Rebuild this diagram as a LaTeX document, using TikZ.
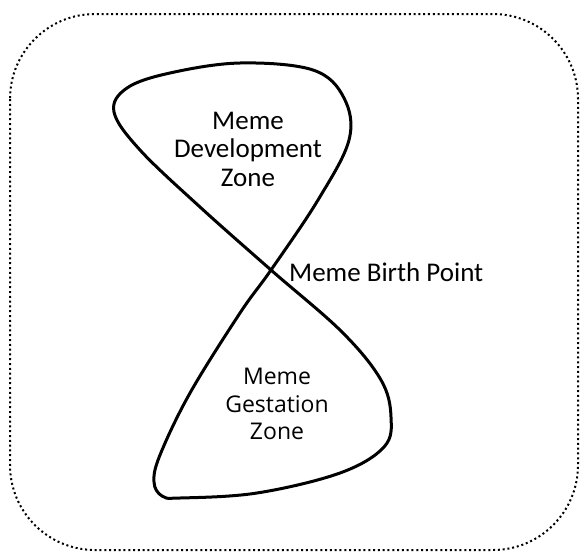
\documentclass[tikz,border=0pt]{standalone}
\usepackage{fontspec}
\setmainfont{Carlito}
\newfontfamily\gestfont{Open Sans}
\begin{document}
\begin{tikzpicture}[x=1pt,y=-1pt,
  frame/.style={line width=2pt,dash pattern=on 2pt off 2.8pt,rounded corners=85pt},
  loop8/.style={line width=3pt,line join=round},
  zonetext/.style={align=center,inner sep=0pt,font=\fontsize{27}{28.5}\selectfont},
  gesttext/.style={align=center,inner sep=0pt,font=\gestfont\fontsize{23}{27.5}\selectfont}]
\useasboundingbox (0,0) rectangle (580,552);
\draw[frame] (10,14) rectangle (578,550);
\draw[loop8] plot[smooth cycle,tension=0.6] coordinates {
  (271,270) (240,313) (190,393) (160,455) (154,482) (162,496) (180,498) (257,493)
  (340,473) (384,447) (391,417) (381,380) (342,332) (271,270)
  (200,207) (140,150) (114,112) (127,88) (170,73) (240,63) (313,70)
  (344,98) (349,140) (318,200)};
\node[zonetext] (dev) at (248,149) {Meme\\Development\\Zone};
\node[zonetext,anchor=west] (birth) at (289,272) {Meme Birth Point};
\node[gesttext] (gest) at (277,404) {Meme\\Gestation\\Zone};
\end{tikzpicture}
\end{document}
